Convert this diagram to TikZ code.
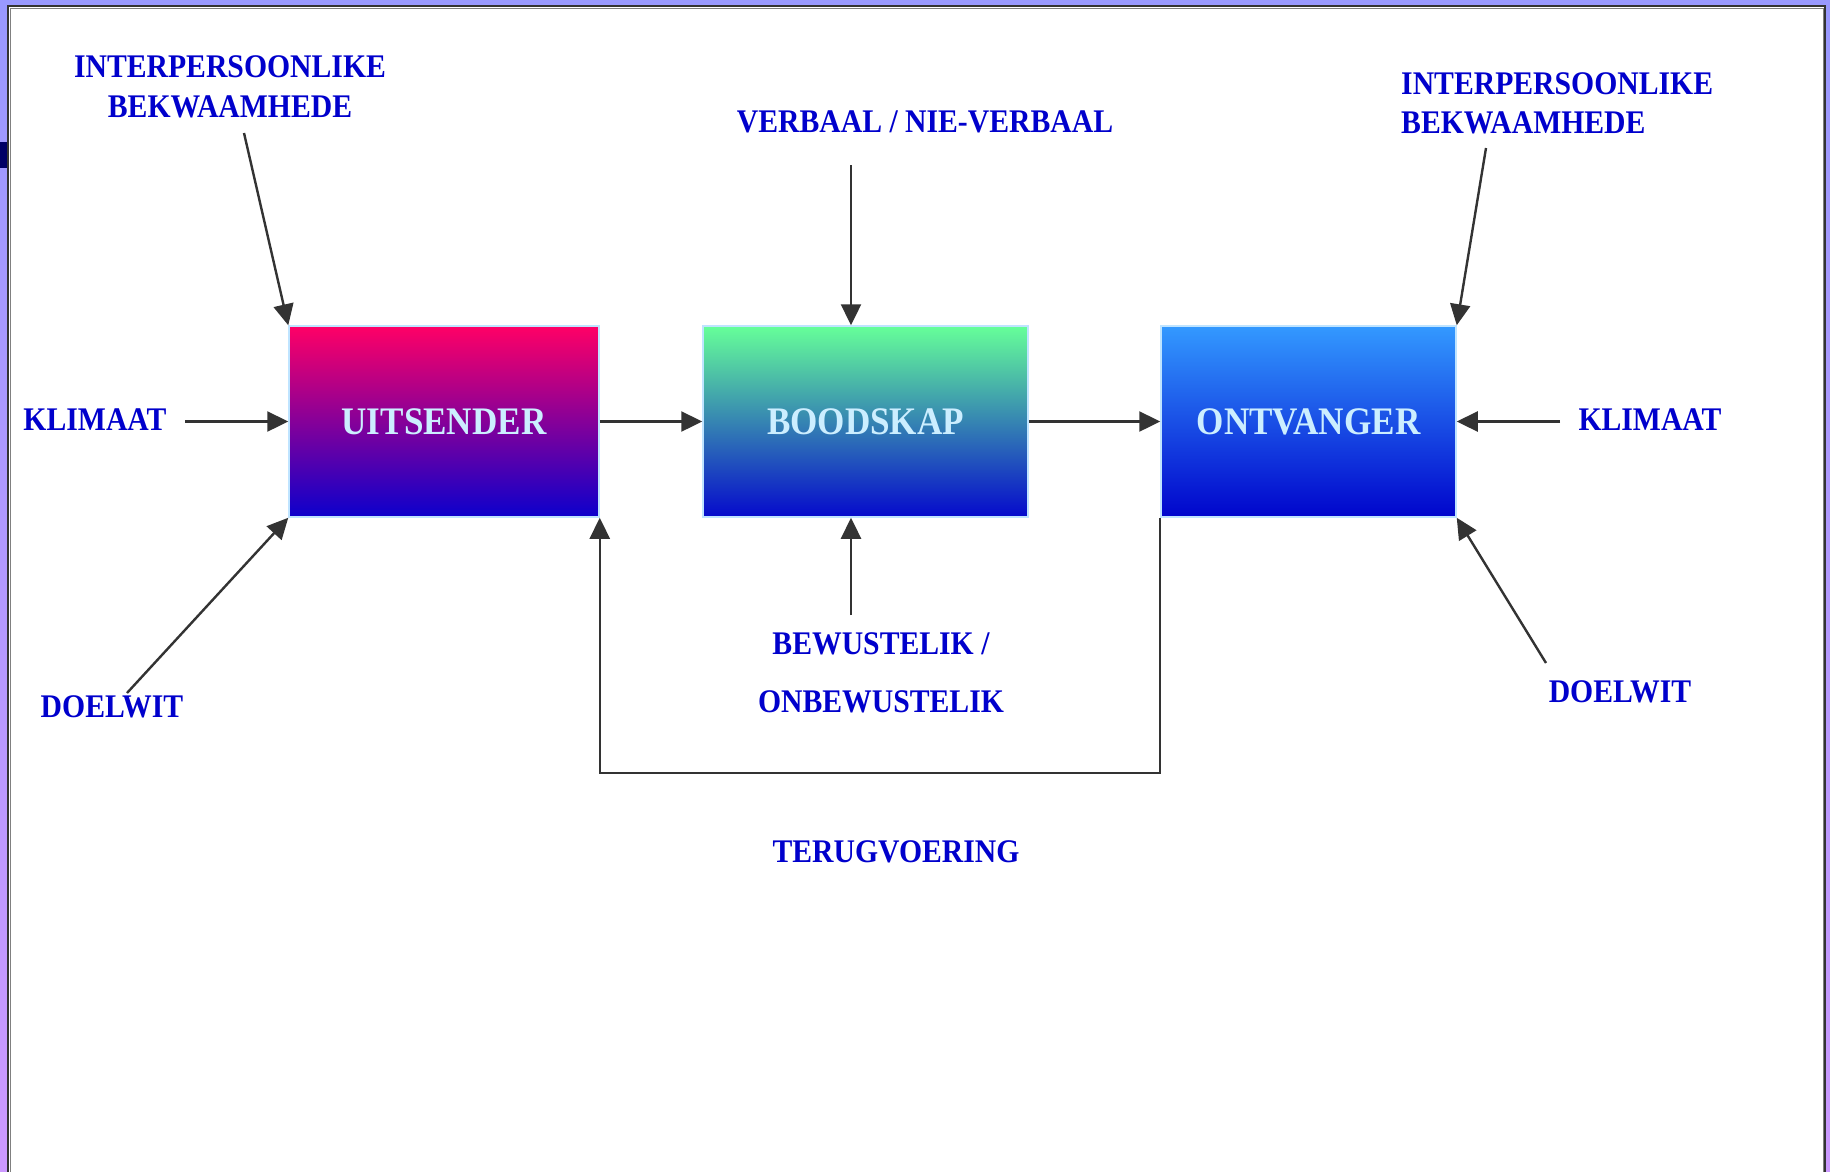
\documentclass[tikz,border=0pt]{standalone}
\usepackage{fontspec}
\setmainfont{Liberation Serif}[FakeStretch=0.9]
\usetikzlibrary{arrows.meta}

\definecolor{labelblue}{HTML}{0000CC}
\definecolor{boxtext}{HTML}{CCEEFF}
\definecolor{boxedge}{HTML}{BFE4FF}
\definecolor{linegray}{HTML}{333333}
\definecolor{bgtop}{HTML}{9999FF}
\definecolor{bgbottom}{HTML}{CC99FF}
\definecolor{navytab}{HTML}{000066}
\definecolor{sendtop}{HTML}{FF0066}
\definecolor{sendbot}{HTML}{0C00CC}
\definecolor{msgtop}{HTML}{66FF99}
\definecolor{msgbot}{HTML}{050ACC}
\definecolor{rectop}{HTML}{3399FF}
\definecolor{recbot}{HTML}{0005CC}

\tikzset{
  label text/.style={text=labelblue, inner sep=0pt,
    font=\bfseries\fontsize{33}{40}\selectfont},
  stage/.style={draw=boxedge, line width=1.5pt, inner sep=0pt,
    minimum height=191pt, text=boxtext,
    font=\bfseries\fontsize{39}{44}\selectfont},
  flow/.style={draw=linegray, line width=2.4pt,
    -{Triangle[length=21pt,width=20pt]}},
}

\begin{document}
\begin{tikzpicture}[x=1pt,y=-1pt]
  \useasboundingbox (0,0) rectangle (1830,1171);
  % backdrop and white sheet
  \shade[top color=bgtop, bottom color=bgbottom] (0,0) rectangle (1830,1171);
  \fill[navytab] (0,142) rectangle (8,168);
  \begin{scope}
    \clip (0,0) rectangle (1830,1171);
    \filldraw[fill=white, draw=linegray, line width=2pt] (8,6) rectangle (1825,1190);
    \draw[gray, line width=1pt] (10,8) rectangle (1823,1190);
  \end{scope}

  % the three stages
  \node[stage, minimum width=310pt, top color=sendtop, bottom color=sendbot]
    (uits) at (444,421.5) {UITSENDER};
  \node[stage, minimum width=325pt, top color=msgtop, bottom color=msgbot]
    (bood) at (865.5,421.5) {BOODSKAP};
  \node[stage, minimum width=295pt, top color=rectop, bottom color=recbot]
    (ontv) at (1308.5,421.5) {ONTVANGER};

  % labels (multi-line nodes are anchored on their last baseline)
  \node[label text, align=center, anchor=base] (ibl) at (230,117)
    {INTERPERSOONLIKE\\BEKWAAMHEDE};
  \node[label text, align=left, anchor=base west, font=\bfseries\fontsize{33}{39}\selectfont]
    (ibr) at (1401,133) {INTERPERSOONLIKE\\BEKWAAMHEDE};
  \node[label text, anchor=base] (verb) at (925,132) {VERBAAL / NIE-VERBAAL};
  \node[label text, anchor=base] (kll) at (95,430) {KLIMAAT};
  \node[label text, anchor=base] (klr) at (1650,430) {KLIMAAT};
  \node[label text, anchor=base] (dwl) at (112,717) {DOELWIT};
  \node[label text, anchor=base] (dwr) at (1620,702) {DOELWIT};
  \node[label text, align=center, anchor=base, font=\bfseries\fontsize{33}{58}\selectfont]
    (bew) at (881,712) {BEWUSTELIK /\\ONBEWUSTELIK};
  \node[label text, anchor=base] (terug) at (896,862) {TERUGVOERING};

  % loose ends of the influence arrows
  \coordinate (tlsrc) at (244,133);
  \coordinate (klsrc) at (185,421.5);
  \coordinate (dlsrc) at (127,693);
  \coordinate (vbsrc) at (851,165);
  \coordinate (bwsrc) at (851,615);
  \coordinate (trsrc) at (1486,148);
  \coordinate (krsrc) at (1560,421.5);
  \coordinate (drsrc) at (1546,663);
  \coordinate (fbline) at (0,773);

  % influences on the sender
  \draw[flow] (tlsrc) -- (uits.north west);
  \draw[flow] (klsrc) -- (uits.west);
  \draw[flow] (dlsrc) -- (uits.south west);
  % main chain
  \draw[flow] (uits.east) -- (bood.west);
  \draw[flow] (bood.east) -- (ontv.west);
  % influences on the message
  \draw[flow] (vbsrc) -- (vbsrc |- bood.north);
  \draw[flow] (bwsrc) -- (bwsrc |- bood.south);
  % influences on the receiver
  \draw[flow] (trsrc) -- (ontv.north east);
  \draw[flow] (krsrc) -- (ontv.east);
  \draw[flow] (drsrc) -- (ontv.south east);
  % feedback loop
  \draw[flow] (ontv.south west) -- (ontv.south west |- fbline)
    -- (uits.south east |- fbline) -- (uits.south east);
\end{tikzpicture}
\end{document}
